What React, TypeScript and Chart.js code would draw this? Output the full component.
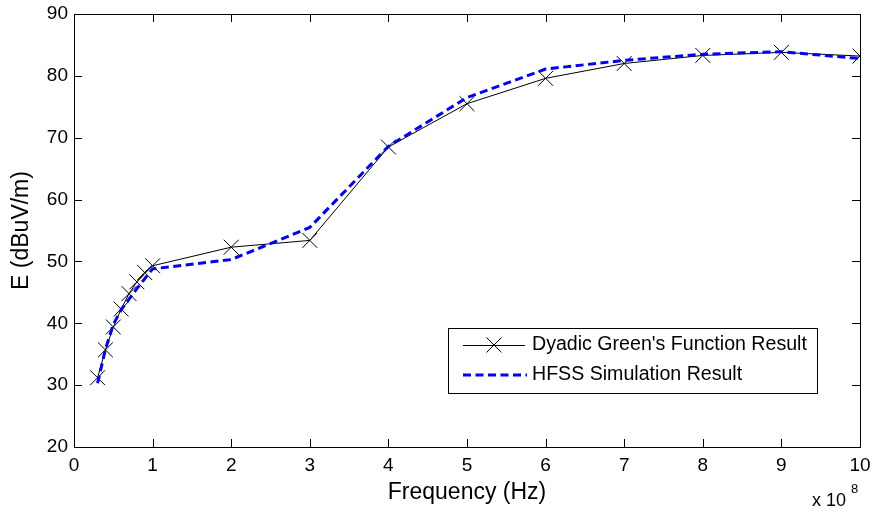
import React, { useEffect, useRef } from "react";
import { Chart, registerables } from "chart.js";

Chart.register(...registerables);

// Frequency in units of 1e8 Hz
const freq = [0.3, 0.4, 0.5, 0.6, 0.7, 0.8, 0.9, 1, 2, 3, 4, 5, 6, 7, 8, 9, 10];
const dyadic = [31.2, 35.7, 39.4, 42.3, 44.8, 46.7, 48.2, 49.3, 52.3, 53.4, 68.5, 75.5, 79.6, 82.0, 83.3, 83.8, 83.2];
const hfss = [30.3, 35.8, 39.8, 42.2, 43.9, 45.6, 47.2, 48.8, 50.3, 55.5, 68.6, 76.5, 81.1, 82.5, 83.5, 83.9, 82.8];
const seriesNames = ["Dyadic Green's Function Result", "HFSS Simulation Result"];
const xTitle = "Frequency (Hz)";
const yTitle = "E (dBuV/m)";
const xExponent = "8";

const FONT = "'Liberation Sans', Arial, Helvetica, sans-serif";

const matlabPlugin = {
  id: "matlabDecor",
  afterDatasetsDraw(chart: any) {
    const ctx = chart.ctx;
    const { left, right, top, bottom } = chart.chartArea;
    const xs = chart.scales.x;
    const ys = chart.scales.y;
    ctx.save();
    ctx.strokeStyle = "#000";
    ctx.lineWidth = 1;
    const tl = 8;
    ctx.beginPath();
    xs.ticks.forEach((t: any) => {
      const px = Math.round(xs.getPixelForValue(t.value)) + 0.5;
      ctx.moveTo(px, bottom);
      ctx.lineTo(px, bottom - tl);
      ctx.moveTo(px, top);
      ctx.lineTo(px, top + tl);
    });
    ys.ticks.forEach((t: any) => {
      const py = Math.round(ys.getPixelForValue(t.value)) + 0.5;
      ctx.moveTo(left, py);
      ctx.lineTo(left + tl, py);
      ctx.moveTo(right, py);
      ctx.lineTo(right - tl, py);
    });
    ctx.stroke();
    ctx.strokeRect(Math.round(left) + 0.5, Math.round(top) + 0.5, Math.round(right - left), Math.round(bottom - top));

    // legend
    const lx = 448, ly = 328, lw = 369, lh = 65;
    ctx.fillStyle = "#fff";
    ctx.fillRect(lx, ly, lw, lh);
    ctx.strokeRect(lx + 0.5, ly + 0.5, lw, lh);
    const rows = [345, 375];
    // row 1
    ctx.strokeStyle = "#000";
    ctx.lineWidth = 1;
    ctx.beginPath();
    ctx.moveTo(463, rows[0] + 0.5);
    ctx.lineTo(525, rows[0] + 0.5);
    const m = 7.5;
    ctx.moveTo(494 - m, rows[0] - m);
    ctx.lineTo(494 + m, rows[0] + m);
    ctx.moveTo(494 - m, rows[0] + m);
    ctx.lineTo(494 + m, rows[0] - m);
    ctx.stroke();
    // row 2
    ctx.strokeStyle = "#0000ff";
    ctx.lineWidth = 3;
    ctx.setLineDash([8, 4.5]);
    ctx.beginPath();
    ctx.moveTo(463, rows[1]);
    ctx.lineTo(527, rows[1]);
    ctx.stroke();
    ctx.setLineDash([]);
    ctx.fillStyle = "#000";
    ctx.font = `19.6px ${FONT}`;
    ctx.textBaseline = "middle";
    ctx.textAlign = "left";
    ctx.fillText(seriesNames[0], 532, rows[0]);
    ctx.fillText(seriesNames[1], 532, rows[1]);

    // exponent label
    ctx.font = `18px ${FONT}`;
    ctx.fillText("x 10", 812, 501);
    ctx.font = `13px ${FONT}`;
    ctx.fillText(xExponent, 851, 489);
    ctx.restore();
  },
};

export default function App() {
  const ref = useRef<HTMLCanvasElement>(null);
  useEffect(() => {
    document.body.style.margin = "0";
    const chart = new Chart(ref.current!, {
      type: "line",
      data: {
        datasets: [
          {
            label: seriesNames[0],
            data: freq.map((f, i) => ({ x: f, y: dyadic[i] })),
            borderColor: "#000",
            borderWidth: 1,
            pointStyle: "crossRot",
            pointRadius: 10.5,
            pointBorderColor: "#000",
            pointBorderWidth: 1,
            pointHoverRadius: 10.5,
            fill: false,
            tension: 0,
            order: 1,
          },
          {
            label: seriesNames[1],
            data: freq.map((f, i) => ({ x: f, y: hfss[i] })),
            borderColor: "#0000ff",
            borderWidth: 3,
            borderDash: [8, 4.5],
            pointRadius: 0,
            fill: false,
            tension: 0,
            order: 0,
          },
        ],
      },
      options: {
        animation: false,
        responsive: true,
        maintainAspectRatio: false,
        layout: { padding: { top: 14, right: 14, left: 0, bottom: 0 } },
        plugins: { legend: { display: false }, tooltip: { enabled: false } },
        scales: {
          x: {
            type: "linear",
            min: 0,
            max: 10,
            ticks: { stepSize: 1, color: "#000", font: { family: FONT, size: 19 }, padding: 7, maxRotation: 0 },
            grid: { display: false, drawTicks: false },
            border: { display: false },
            title: { display: true, text: xTitle, color: "#000", font: { family: FONT, size: 23 }, padding: { top: 0, bottom: 6 } },
            afterFit: (s: any) => { s.height = 65; s.paddingLeft = 0; s.paddingRight = 0; },
          },
          y: {
            type: "linear",
            min: 20,
            max: 90,
            ticks: { stepSize: 10, color: "#000", font: { family: FONT, size: 19 }, padding: 6 },
            grid: { display: false, drawTicks: false },
            border: { display: false },
            title: { display: true, text: yTitle, color: "#000", font: { family: FONT, size: 23 }, padding: { top: 8, bottom: 0 } },
            afterFit: (s: any) => { s.width = 74; s.paddingTop = 0; s.paddingBottom = 0; },
          },
        },
      },
      plugins: [matlabPlugin],
    });
    return () => chart.destroy();
  }, []);
  return (
    <div style={{ position: "absolute", left: 0, top: 0, width: 874, height: 512, background: "#fff" }}>
      <canvas ref={ref} />
    </div>
  );
}
